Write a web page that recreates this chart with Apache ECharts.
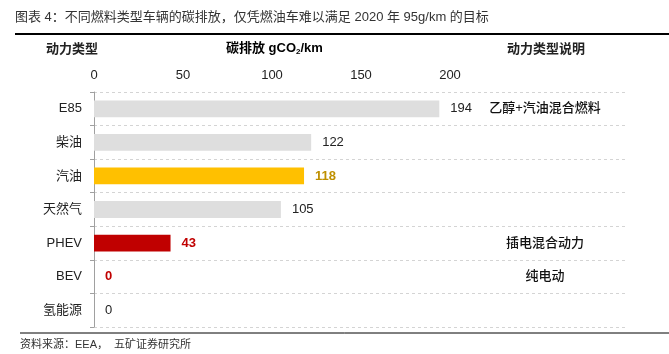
<!DOCTYPE html>
<html>
<head>
<meta charset="utf-8">
<script src="https://cdn.jsdelivr.net/npm/echarts@6/dist/echarts.min.js"></script>
<style>
html, body { margin: 0; padding: 0; background: #fff; }
#chart { width: 669px; height: 354px; }
</style>
</head>
<body>
<div id="chart"></div>
<script>
var categories = ['E85', '柴油', '汽油', '天然气', 'PHEV', 'BEV', '氢能源'];
var emissions = [194, 122, 118, 105, 43, 0, 0];
var descriptions = ['乙醇+汽油混合燃料', '', '', '', '插电混合动力', '纯电动', ''];
var xTicks = [0, 50, 100, 150, 200];

var font = '"Liberation Sans", "Noto Sans CJK SC", sans-serif';
// bar / label colours by row
var barColors = ['#dedede', '#dedede', '#ffc000', '#dedede', '#c00000', '#c00000', '#dedede'];
var labelStyles = [
    { color: '#222', fontWeight: 'normal' },
    { color: '#222', fontWeight: 'normal' },
    { color: '#bf9000', fontWeight: 'bold' },
    { color: '#222', fontWeight: 'normal' },
    { color: '#c00000', fontWeight: 'bold' },
    { color: '#c00000', fontWeight: 'bold' },
    { color: '#222', fontWeight: 'normal' }
];

var barData = emissions.map(function (v, i) {
    return {
        value: v,
        itemStyle: { color: barColors[i] },
        label: labelStyles[i]
    };
});

option = {
    backgroundColor: '#fff',
    animation: false,
    textStyle: { fontFamily: font },
    grid: {
        left: 94,
        right: 41,
        top: 92,
        bottom: 27
    },
    xAxis: {
        type: 'value',
        position: 'top',
        min: 0,
        max: 300,
        interval: 50,
        axisLine: { show: false },
        axisTick: { show: false },
        splitLine: { show: false },
        axisLabel: {
            margin: 10,
            fontSize: 13,
            color: '#222',
            fontFamily: font,
            formatter: function (v) {
                return xTicks.indexOf(v) >= 0 ? String(v) : '';
            }
        }
    },
    yAxis: [{
        type: 'category',
        inverse: true,
        data: categories,
        axisLine: { lineStyle: { color: '#a0a0a0' } },
        axisTick: { show: true, length: 4, lineStyle: { color: '#a0a0a0' } },
        splitLine: { show: true, lineStyle: { color: '#d4d4d4', type: [3, 3] } },
        axisLabel: {
            margin: 12,
            fontSize: 13,
            color: '#222',
            fontFamily: font
        }
    }, {
        type: 'category',
        inverse: true,
        position: 'right',
        offset: -83,
        data: descriptions,
        axisLine: { show: false },
        axisTick: { show: false },
        splitLine: { show: false },
        axisLabel: {
            margin: 0,
            align: 'center',
            fontSize: 13,
            fontWeight: 500,
            color: '#111',
            fontFamily: font
        }
    }],
    series: [{
        type: 'bar',
        yAxisIndex: 0,
        data: barData,
        barWidth: '50%',
        label: {
            show: true,
            position: 'right',
            distance: 11,
            fontSize: 13,
            fontFamily: font
        }
    }],
    graphic: [
        {
            type: 'text', left: 15, top: 11,
            style: { text: '图表 4：不同燃料类型车辆的碳排放，仅凭燃油车难以满足 2020 年 95g/km 的目标', fontSize: 13, fill: '#333', fontFamily: font }
        },
        {
            type: 'line', shape: { x1: 15, y1: 34, x2: 669, y2: 34 },
            style: { stroke: '#000', lineWidth: 2 }
        },
        {
            type: 'text', left: 46, top: 43,
            style: { text: '动力类型', fontSize: 13, fontWeight: 'bold', fill: '#222', fontFamily: font }
        },
        {
            type: 'text', left: 226, top: 42,
            style: {
                text: '{b|碳排放 gCO}{s|2}{b|/km}',
                rich: {
                    b: { fontSize: 13, fontWeight: 'bold', color: '#222', fontFamily: font },
                    s: { fontSize: 8, fontWeight: 'bold', color: '#222', fontFamily: font, padding: [6, 0, 0, 0] }
                }
            }
        },
        {
            type: 'text', left: 507, top: 43,
            style: { text: '动力类型说明', fontSize: 13, fontWeight: 'bold', fill: '#222', fontFamily: font }
        },
        {
            type: 'line', shape: { x1: 20, y1: 333, x2: 669, y2: 333 },
            style: { stroke: '#000', lineWidth: 1 }
        },
        {
            type: 'text', left: 20, top: 339,
            style: { text: '资料来源：EEA，  五矿证券研究所', fontSize: 11, fill: '#333', fontFamily: font }
        }
    ]
};
var chart = echarts.init(document.getElementById('chart'));
chart.setOption(option);
</script>
</body>
</html>
